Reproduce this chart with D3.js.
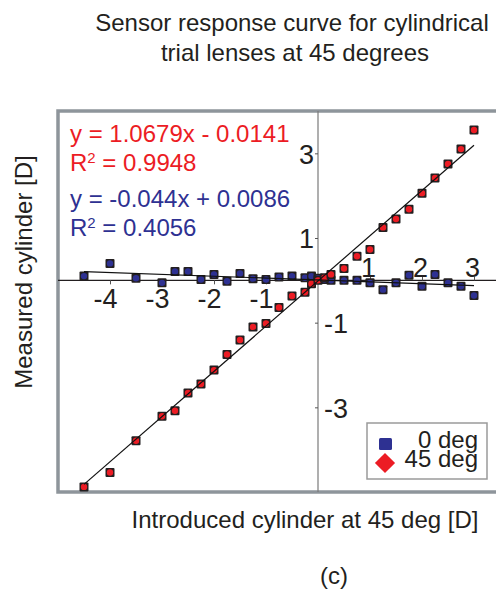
<!DOCTYPE html>
<html>
<head>
<meta charset="utf-8">
<script src="https://cdn.jsdelivr.net/npm/d3@7"></script>
<style>
  body { margin: 0; background: #fff; }
  text { font-family: "Liberation Sans", Arial, sans-serif; fill: #231f20; }
</style>
</head>
<body>
<svg id="chart"></svg>
<script>
// introduced cylinder (D) for each lens
var introduced = [-4.5, -4, -3.5, -3, -2.75, -2.5, -2.25, -2, -1.75, -1.5, -1.25, -1, -0.75, -0.5, -0.25, -0.125,
                  0, 0.125, 0.25, 0.5, 0.75, 1, 1.25, 1.5, 1.75, 2, 2.25, 2.5, 2.75, 3];
// measured at 45 deg
var measured45 = [-4.88, -4.54, -3.79, -3.21, -3.08, -2.66, -2.45, -2.12, -1.75, -1.41, -1.10, -1.02, -0.64, -0.37, -0.28, -0.08,
                  0.0, 0.06, 0.14, 0.28, 0.57, 0.73, 1.25, 1.45, 1.68, 2.06, 2.42, 2.75, 3.10, 3.55];
// measured at 0 deg
var measured0 = [0.10, 0.40, 0.05, -0.06, 0.21, 0.21, 0.02, 0.14, -0.02, 0.16, 0.04, 0.02, 0.08, 0.10, 0.06, 0.10,
                 0.05, 0.02, 0.0, 0.0, 0.0, -0.06, -0.22, -0.06, 0.12, -0.14, 0.14, -0.06, -0.14, -0.36];

var fitSlopes = [1.0679, -0.044];
var fitIntercepts = [-0.0141, 0.0086];
var fitR2 = ["0.9948", "0.4056"];
var seriesNames = ["0 deg", "45 deg"];
var yTickValues = [3, 1, -1, -3];
var xTickValues = [-4, -3, -2, -1, 1, 2, 3];

var red = "#ec1c24";
var blue = "#2e3192";

var svg = d3.select("#chart")
    .attr("width", 496)
    .attr("height", 594);

var xScale = d3.scaleLinear().domain([-5, 3.5]).range([58, 500]);
var yScale = d3.scaleLinear().domain([-5, 4]).range([492, 111]);

// titles
svg.append("text").attr("x", 292).attr("y", 31).attr("text-anchor", "middle")
    .style("font-size", "24px").text("Sensor response curve for cylindrical");
svg.append("text").attr("x", 295).attr("y", 61).attr("text-anchor", "middle")
    .style("font-size", "24px").text("trial lenses at 45 degrees");

svg.append("text").attr("x", 305).attr("y", 528).attr("text-anchor", "middle")
    .style("font-size", "24px").text("Introduced cylinder at 45 deg [D]");
svg.append("text").attr("x", 334).attr("y", 584).attr("text-anchor", "middle")
    .style("font-size", "24px").text("(c)");

svg.append("text")
    .attr("transform", "translate(32,272) rotate(-90)")
    .attr("text-anchor", "middle")
    .style("font-size", "24px")
    .text("Measured cylinder [D]");

// plot frame
svg.append("rect")
    .attr("x", xScale(-5))
    .attr("y", yScale(4))
    .attr("width", 460)
    .attr("height", yScale(-5) - yScale(4))
    .attr("fill", "none")
    .attr("stroke", "#8e959b")
    .attr("stroke-width", 3.5);

// y axis through x = 0
svg.append("line")
    .attr("x1", xScale(0)).attr("x2", xScale(0))
    .attr("y1", yScale(4)).attr("y2", yScale(-5))
    .attr("stroke", "#7a7a7a").attr("stroke-width", 1.2);

var yAxis = svg.append("g")
    .attr("transform", "translate(" + xScale(0) + ",0)")
    .call(d3.axisLeft(yScale).tickValues(yTickValues).tickSize(3).tickFormat(d3.format("d")));
yAxis.select(".domain").remove();
yAxis.selectAll(".tick line").attr("stroke", "#555");
yAxis.selectAll(".tick text")
    .style("font-size", "27px")
    .style("font-family", "'Liberation Sans', Arial, sans-serif")
    .attr("fill", "#231f20")
    .attr("dy", "0.36em")
    .attr("text-anchor", function (d) { return d < 0 ? "start" : "end"; })
    .attr("x", function (d) { return d < 0 ? 6 : -4; })
    .text(function (d) { return d < 0 ? "-" + Math.abs(d) : d; });

// x axis through y = 0
svg.append("line")
    .attr("x1", xScale(-5)).attr("x2", 496)
    .attr("y1", yScale(0)).attr("y2", yScale(0))
    .attr("stroke", "#231f20").attr("stroke-width", 1.2);

var xAxis = svg.append("g")
    .attr("transform", "translate(0," + yScale(0) + ")")
    .call(d3.axisBottom(xScale).tickValues(xTickValues).tickSize(4).tickFormat(d3.format("d")));
xAxis.select(".domain").remove();
xAxis.selectAll(".tick line")
    .attr("stroke", "#555")
    .attr("y2", function (d) { return d < 0 ? 4 : -4; });
xAxis.selectAll(".tick text")
    .style("font-size", "27px")
    .style("font-family", "'Liberation Sans', Arial, sans-serif")
    .attr("fill", "#231f20")
    .attr("dy", 0)
    .attr("y", function (d) { return d < 0 ? 28 : -3; })
    .attr("x", function (d) { return d < 0 ? -5 : -2; })
    .text(function (d) { return d < 0 ? "-" + Math.abs(d) : d; });

// markers: dark square with a coloured dot
function addMarkers(values, color) {
    var g = svg.append("g");
    var pts = g.selectAll("g.pt")
        .data(introduced)
        .enter().append("g")
        .attr("class", "pt")
        .attr("transform", function (d, i) {
            return "translate(" + xScale(d) + "," + yScale(values[i]) + ")";
        });
    pts.append("rect")
        .attr("x", -4.5).attr("y", -4.5)
        .attr("width", 9).attr("height", 9)
        .attr("rx", 1)
        .attr("fill", "#231f20");
    pts.append("circle")
        .attr("r", 3.2)
        .attr("fill", color);
}

addMarkers(measured0, blue);
addMarkers(measured45, red);

// linear trend lines
var xMin = d3.min(introduced);
var xMax = d3.max(introduced);
fitSlopes.forEach(function (m, i) {
    svg.append("line")
        .attr("x1", xScale(xMin))
        .attr("y1", yScale(m * xMin + fitIntercepts[i]))
        .attr("x2", xScale(xMax))
        .attr("y2", yScale(m * xMax + fitIntercepts[i]))
        .attr("stroke", "#111")
        .attr("stroke-width", 1.2);
});

// equations
function addEquation(eq, r2, color, y) {
    svg.append("text").attr("x", 70).attr("y", y)
        .style("font-size", "24px").style("fill", color)
        .text(eq);
    var t = svg.append("text").attr("x", 70).attr("y", y + 29)
        .style("font-size", "24px").style("fill", color);
    t.append("tspan").text("R");
    t.append("tspan").attr("dy", -8).style("font-size", "15px").text("2");
    t.append("tspan").attr("dy", 8).text(" = " + r2);
}

addEquation("y = " + fitSlopes[0] + "x - " + Math.abs(fitIntercepts[0]), fitR2[0], red, 142);
addEquation("y = " + fitSlopes[1] + "x + " + fitIntercepts[1], fitR2[1], blue, 207);

// legend
var legend = svg.append("g").attr("class", "legend");
legend.append("rect")
    .attr("x", 367).attr("y", 423)
    .attr("width", 120).attr("height", 56)
    .attr("fill", "#fff")
    .attr("stroke", "#9a9a9a")
    .attr("stroke-width", 1.5);

legend.append("rect")
    .attr("x", 379).attr("y", 438)
    .attr("width", 13).attr("height", 12)
    .attr("rx", 1.5)
    .attr("fill", blue);

legend.append("path")
    .attr("d", d3.symbol().type(d3.symbolDiamond2).size(260))
    .attr("transform", "translate(385,463)")
    .attr("fill", red);

legend.selectAll(".legendText")
    .data(seriesNames)
    .enter().append("text")
    .attr("class", "legendText")
    .attr("x", 478)
    .attr("y", function (d, i) { return 448 + i * 19; })
    .attr("text-anchor", "end")
    .style("font-size", "24px")
    .text(function (d) { return d; });
</script>
</body>
</html>
